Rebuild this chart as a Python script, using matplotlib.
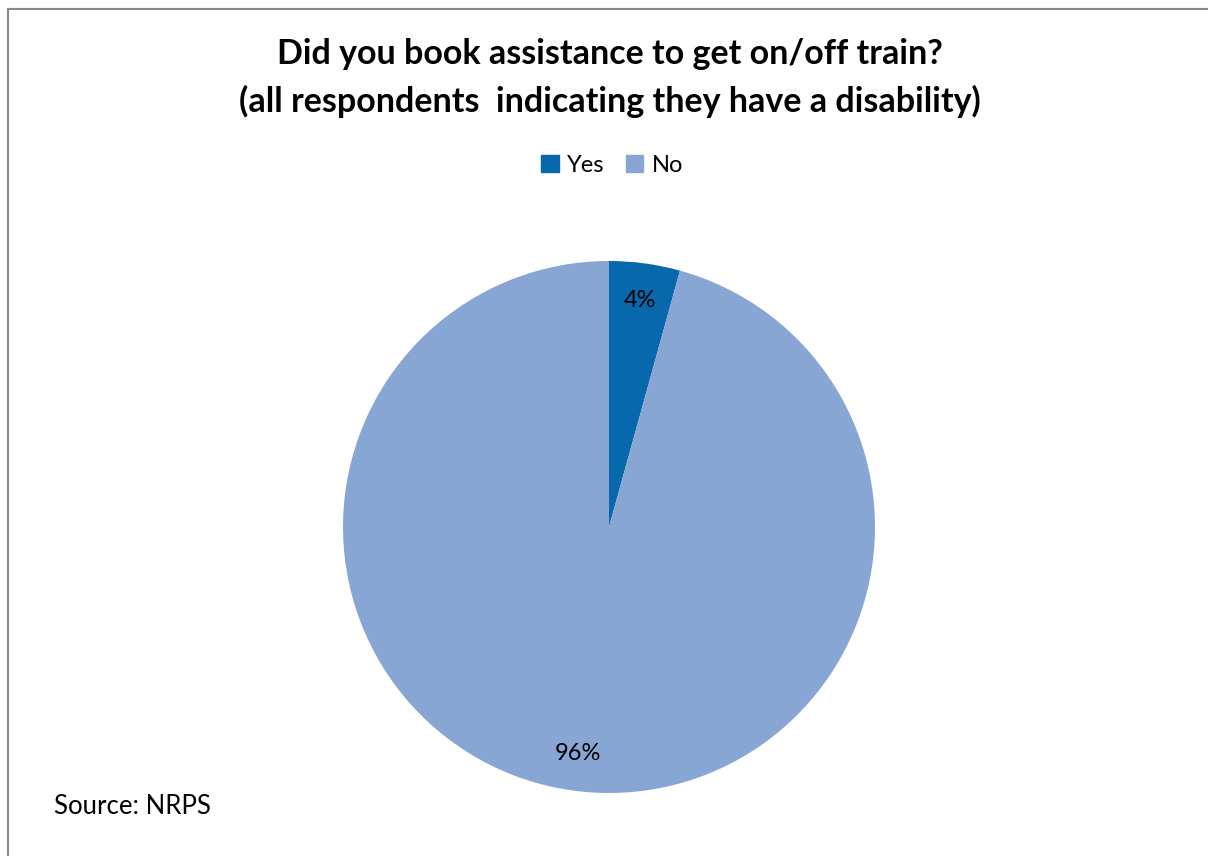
import matplotlib.pyplot as plt
from matplotlib.patches import Rectangle, Patch

labels = ['Yes', 'No']
values = [4.3, 95.7]
colors = ['#0868AC', '#87A6D4']

plt.rcParams['font.family'] = ['Lato', 'DejaVu Sans']

fig = plt.figure(figsize=(12.08, 8.56), dpi=100)
W, H = 1208, 856

# chart frame (runs off the right/bottom edge like the screenshot)
fig.patches.append(Rectangle((8 / W, -0.05), 1.1, 1 - 9 / H + 0.05,
                             transform=fig.transFigure, fill=False,
                             edgecolor='#888888', linewidth=1.5))

cx, cy, r = 609, 527, 266
ax = fig.add_axes([(cx - r) / W, (H - cy - r) / H, 2 * r / W, 2 * r / H])
wedges, texts, autotexts = ax.pie(values, colors=colors, startangle=90, counterclock=False,
                                  autopct='%.0f%%', pctdistance=0.86, radius=1,
                                  textprops={'fontsize': 17, 'color': 'black'})
ax.set_xlim(-1, 1)
ax.set_ylim(-1, 1)
ax.set_aspect('equal')
ax.axis('off')

fig.text(610 / W, 1 - 78 / H, 'Did you book assistance to get on/off train?\n(all respondents  indicating they have a disability)',
         ha='center', va='center', fontsize=24.5, fontweight='bold', linespacing=1.55)

fig.legend(handles=[Patch(color=c, label=l) for c, l in zip(colors, labels)],
           loc='center', bbox_to_anchor=(612 / W, 1 - 165 / H), ncol=2, frameon=False,
           fontsize=17, handlelength=0.75, handleheight=0.75, handletextpad=0.35, columnspacing=0.9)

fig.text(54 / W, 1 - 806 / H, 'Source: NRPS', ha='left', va='center', fontsize=18.5)

plt.savefig('out.png', dpi=100)
